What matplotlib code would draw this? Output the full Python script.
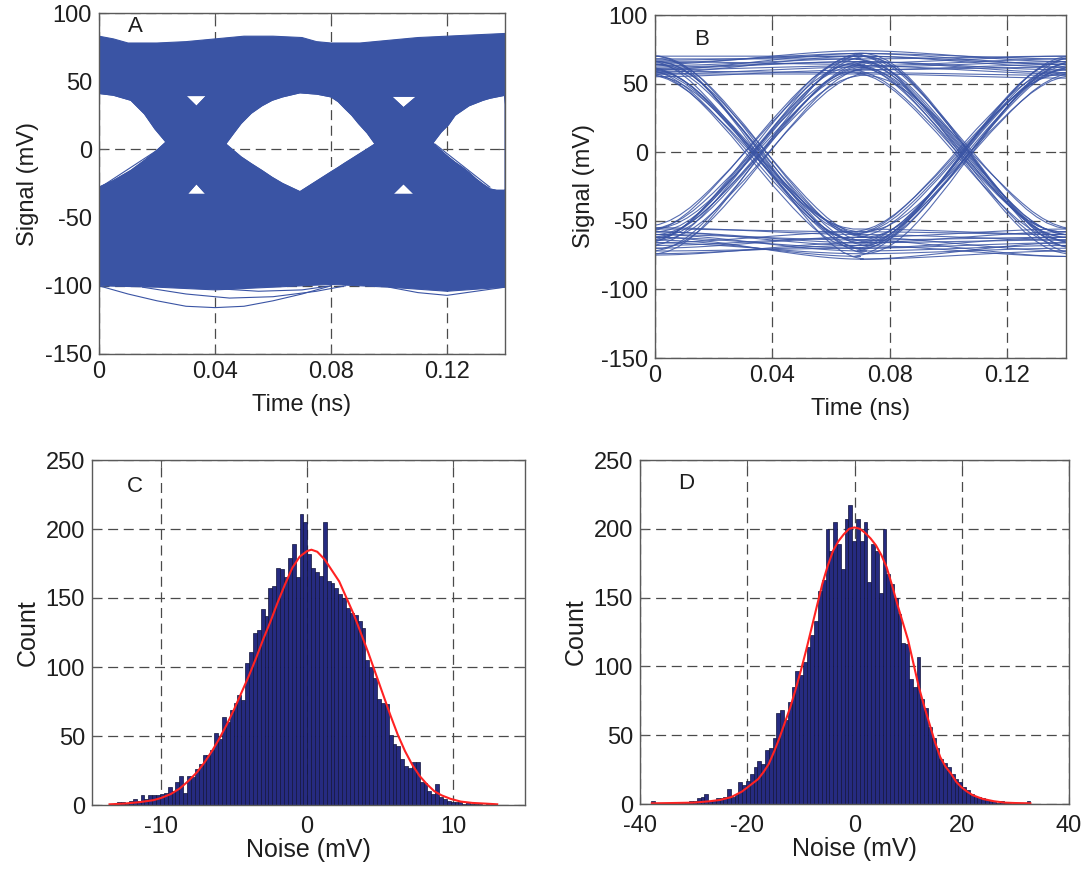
import numpy as np
import matplotlib
matplotlib.use("Agg")
import matplotlib.pyplot as plt
from matplotlib.path import Path
from matplotlib.patches import PathPatch

plt.rcParams['font.family'] = ['Liberation Sans', 'DejaVu Sans']
plt.rcParams['axes.unicode_minus'] = False

# ---------------- data ----------------
time_ticks = [0, 0.04, 0.08, 0.12]
signal_ticks = [-150, -100, -50, 0, 50, 100]
count_ticks = [0, 50, 100, 150, 200, 250]

# Panel A: dense eye, outline of the filled band (time ns, signal mV)
a_top_t = [0, 0.005, 0.01, 0.02, 0.03, 0.04, 0.05, 0.06, 0.07, 0.075, 0.08, 0.09, 0.1, 0.11, 0.12, 0.13, 0.14]
a_top_y = [83, 81, 78, 78, 79, 81, 83, 83, 82, 79, 78, 78, 80, 82, 83, 84, 85]
a_bot_t = [0, 0.02, 0.04, 0.06, 0.08, 0.1, 0.12, 0.14]
a_bot_y = [-100, -101, -103, -101, -99, -101, -104, -101]

# open eyes inside the band
a_left_eye_t = [-0.002, 0, 0.005, 0.011, 0.0157, 0.0193, 0.0231]
a_left_eye_up = [41, 41, 39.7, 36, 26, 15, 5.4]
a_left_eye_low = [-28, -27.7, -22.8, -15.4, -8, -2, 5.4]

a_mid_eye_t = [0.0437, 0.0465, 0.049, 0.0525, 0.0562, 0.0597, 0.0633, 0.0693, 0.0752, 0.080, 0.0825,
               0.0848, 0.0872, 0.0895, 0.0925, 0.0952]
a_mid_eye_up = [4, 12, 19, 26.5, 32, 36, 38.5, 41.5, 40.5, 38.5, 35, 30, 25, 19, 12, 4]
a_mid_eye_low = [4, -1, -5.5, -10.5, -15.5, -20.5, -25, -31, -23, -16.5, -13.2, -10, -6.8, -3.7, 0.3, 4]

a_right_eye_t = [0.1151, 0.118, 0.1205, 0.1228, 0.1252, 0.1276, 0.13, 0.1324, 0.1348, 0.1371, 0.14, 0.142]
a_right_eye_up = [4.6, 12.7, 18, 25, 28.5, 32, 34, 36, 37.5, 38.5, 39.7, 39.7]
a_right_eye_low = [4.6, -1, -5.6, -9.5, -13, -17, -21.6, -25.5, -29, -30, -30, -30]

# small triangular holes near the crossings
a_tri_t = [[0.0298, 0.0336, 0.0372], [0.0336, 0.0303, 0.0370],
           [0.1007, 0.1050, 0.1097], [0.1050, 0.1012, 0.1088]]
a_tri_y = [[39.5, 31.5, 39.5], [-25, -33, -33],
           [39, 30.5, 39], [-25, -33, -33]]

# a few stray traces outside / inside the band
a_stray_t = [[0, 0.01, 0.02, 0.03, 0.04, 0.05, 0.06, 0.07, 0.08],
             [0.015, 0.03, 0.045, 0.06, 0.075, 0.085],
             [0.04, 0.055, 0.07, 0.08],
             [0.1, 0.11, 0.12, 0.13, 0.14],
             [0.0014, 0.0217],
             [0.1158, 0.1348],
             [0.0705, 0.0945]]
a_stray_y = [[-100, -106, -111, -115, -116, -115, -111, -106, -100],
             [-101, -106, -109, -108, -104, -100],
             [-102, -104, -103, -100],
             [-101, -105, -107, -104, -101],
             [-26.5, 1.7],
             [4, -27.7],
             [-30, 2]]

# Panel B: one bit edge shape (offset from crossing in ns, fraction of swing)
b_edge_tau = [-0.035, -0.0315, -0.028, -0.0245, -0.021, -0.0175, -0.014, -0.0105, -0.007, -0.0035, 0.0,
              0.0035, 0.007, 0.0105, 0.014, 0.0175, 0.021, 0.0245, 0.028, 0.0315, 0.035]
b_edge_frac = [0.0, 0.012, 0.035, 0.07, 0.115, 0.17, 0.23, 0.295, 0.36, 0.43, 0.5,
               0.57, 0.64, 0.705, 0.77, 0.83, 0.885, 0.93, 0.965, 0.988, 1.0]
b_crossings = [0.035, 0.105]
# each trace: three bit levels (mV) and the jitter of its two crossings (ns)
b_traces = [
    (62, 66, 60, 0, 0), (58, 70, 64, 0, 0), (65, 72, 68, 0, 0), (60, 63, 57, 0, 0),
    (68, 68, 70, 0, 0), (55, 60, 62, 0, 0), (64, 74, 66, 0, 0), (57, 57, 54, 0, 0),
    (63, 68, -62, 0, -0.0015), (60, 72, -70, 0, 0.002), (66, 64, -58, 0, -0.0025), (57, 62, -66, 0, 0.001),
    (70, 70, -74, 0, 0.0025), (61, 66, -60, 0, -0.0005), (59, 58, -64, 0, -0.002), (67, 70, -56, 0, 0.0005),
    (64, -62, 60, 0.001, -0.001), (58, -70, 66, -0.002, 0.0015), (68, -66, 63, 0.0025, 0.0),
    (61, -58, 57, -0.001, -0.002), (66, -74, 70, 0.002, 0.0025), (60, -64, 62, -0.0025, 0.001),
    (56, -60, 58, 0.0, -0.0015), (70, -68, 66, 0.0015, 0.002),
    (62, -60, -64, -0.0015, 0), (66, -72, -68, 0.002, 0), (59, -66, -58, -0.0005, 0), (64, -62, -72, 0.0025, 0),
    (70, -78, -66, 0.001, 0), (57, -56, -60, -0.0025, 0), (60, -70, -62, 0.0, 0), (67, -64, -76, -0.002, 0),
    (-56, 60, 64, -0.001, 0), (-62, 66, 58, 0.002, 0), (-66, 63, 68, -0.0025, 0), (-58, 70, 62, 0.0015, 0),
    (-72, 62, 66, 0.0, 0), (-54, 65, 70, -0.002, 0), (-64, 58, 56, 0.0025, 0), (-68, 72, 64, -0.0005, 0),
    (-60, 64, -62, 0.0015, -0.001), (-66, 70, -70, -0.002, 0.002), (-56, 60, -58, 0.0005, -0.0025),
    (-64, 66, -66, -0.001, 0.0015), (-70, 62, -74, 0.0025, 0.0), (-58, 68, -60, -0.0025, -0.0005),
    (-62, 56, -56, 0.0, 0.0025), (-74, 72, -68, 0.001, -0.002),
    (-58, -66, 62, 0, 0.0015), (-64, -76, 66, 0, -0.002), (-70, -62, 58, 0, 0.0025), (-60, -72, 64, 0, -0.001),
    (-74, -68, 70, 0, 0.0005), (-55, -60, 60, 0, -0.0025), (-66, -58, 56, 0, 0.002), (-62, -70, 68, 0, -0.0005),
    (-60, -64, -62, 0, 0), (-66, -74, -70, 0, 0), (-56, -58, -60, 0, 0), (-72, -70, -66, 0, 0),
    (-62, -78, -72, 0, 0), (-68, -62, -56, 0, 0), (-58, -68, -76, 0, 0), (-75, -66, -64, 0, 0),
]

# Panel C histogram (100 bins between c_range) and fitted curve
c_range = (-13.5, 13.0)
c_counts = [1, 1, 2, 2, 1, 3, 4, 3, 7, 4,
            7, 7, 7, 8, 9, 13, 10, 17, 21, 9,
            21, 20, 26, 30, 36, 36, 40, 52, 48, 64,
            60, 69, 74, 80, 76, 103, 111, 125, 127, 142,
            137, 157, 159, 172, 171, 165, 179, 189, 165, 211,
            205, 182, 172, 169, 166, 205, 162, 161, 157, 153,
            150, 143, 139, 138, 133, 128, 105, 100, 92, 77,
            74, 73, 51, 44, 43, 33, 28, 27, 31, 31,
            17, 16, 10, 8, 15, 6, 4, 3, 2, 2,
            2, 1, 2, 1, 1, 1, 0, 1, 0, 1]
c_fit_x = [-13.5, -12.5, -11.5, -10.5, -10, -9.3, -8.7, -8.1, -7.5, -7.0, -6.5, -6.0, -5.5, -5.0,
           -4.5, -4.0, -3.5, -3.0, -2.5, -2.0, -1.5, -1.0, -0.5, 0, 0.3, 0.7, 1.2, 1.7, 2.2, 2.7,
           3.2, 3.7, 4.2, 4.7, 5.2, 5.7, 6.2, 6.7, 7.2, 7.7, 8.2, 8.7, 9.2, 9.8, 10.5, 11.3, 12.2, 13.0]
c_fit_y = [0.5, 1, 2, 3.5, 5, 8, 12, 17.5, 24, 31, 39, 48, 58, 69,
           81, 93, 106, 120, 133, 147, 160, 172, 180, 184, 185, 183.5, 178, 170, 162, 150,
           138, 124, 110, 95, 80, 65, 51, 39, 29, 21, 15, 10, 7, 4.5, 2.5, 1.5, 1, 0.5]

# Panel D histogram
d_range = (-37.9, 32.8)
d_counts = [2, 0, 0, 0, 0, 1, 0, 1, 1, 1,
            2, 2, 4, 5, 7, 2, 3, 4, 4, 5,
            11, 5, 7, 16, 14, 17, 22, 27, 31, 29,
            39, 41, 48, 66, 68, 61, 74, 85, 97, 94,
            103, 114, 123, 133, 155, 163, 200, 184, 205, 189,
            171, 207, 217, 191, 207, 191, 205, 161, 189, 184,
            153, 200, 167, 160, 150, 138, 117, 116, 91, 85,
            107, 76, 70, 56, 48, 41, 33, 30, 27, 22,
            18, 16, 12, 10, 7, 6, 5, 4, 3, 2,
            2, 1, 2, 1, 1, 0, 0, 0, 0, 2]
d_fit_x = [-37.8, -34, -30, -27, -25, -23, -22, -21, -20, -19, -18, -17, -16, -15, -14, -13, -12,
           -11, -10, -9, -8, -7, -6, -5, -4, -3, -2, -1, 0, 1, 2, 3, 4, 5, 6, 7, 8, 9, 10,
           11, 12, 13, 14, 15, 16, 17, 18, 19, 20, 21, 22, 23, 24, 26, 28, 30, 32.8]
d_fit_y = [0.5, 0.7, 1, 2, 3, 5, 7, 9, 12, 15, 18, 23, 29, 38, 48, 59, 70,
           83, 97, 112, 128, 144, 160, 173, 184, 191, 196, 200, 201, 200, 197, 193, 188, 181, 172, 159, 145, 132, 119,
           102, 85, 71, 58, 45, 34, 27, 22, 16, 12, 9, 6.5, 5, 3.6, 2, 1, 0.7, 0.5]

# ---------------- styling ----------------
EYE_BLUE = '#3a54a4'
TEXT = '#1e1e1e'
FS = 17


def style_axes(ax, xpad=5):
    ax.set_axisbelow(True)
    ax.grid(True, linestyle=(0, (8, 4.5)), color='#4a4a4a', linewidth=0.9)
    for s in ax.spines.values():
        s.set_color('#5a5a5a')
        s.set_linewidth(1.0)
    ax.tick_params(direction='in', length=5, width=0.8, colors='#5a5a5a',
                   labelcolor=TEXT, labelsize=FS, top=True, right=True, pad=5)
    ax.tick_params(axis='x', pad=xpad)


W, H = 1085, 871
fig = plt.figure(figsize=(W / 100, H / 100), dpi=100)


def add_ax(left, top, right, bottom):
    return fig.add_axes([left / W, 1 - bottom / H, (right - left) / W, (bottom - top) / H])


axA = add_ax(99, 13, 505, 354)
axB = add_ax(655, 15, 1066, 358)
axC = add_ax(92, 460, 525, 805)
axD = add_ax(640, 460, 1069, 804)

# ---- A ----
def loop(t, low, up):
    # lower edge left->right, upper edge right->left (counter-clockwise hole)
    xs = list(t) + list(t[::-1][1:])
    ys = list(low) + list(up[::-1][1:])
    return np.column_stack([xs, ys])


outer = np.column_stack([a_top_t + a_bot_t[::-1], a_top_y + a_bot_y[::-1]])
holes = [loop(a_left_eye_t, a_left_eye_low, a_left_eye_up),
         loop(a_mid_eye_t, a_mid_eye_low, a_mid_eye_up),
         loop(a_right_eye_t, a_right_eye_low, a_right_eye_up)]
for tt, yy in zip(a_tri_t, a_tri_y):
    holes.append(np.column_stack([tt, yy]))

verts, codes = [], []
for poly in [outer] + holes:
    verts.extend(poly.tolist())
    verts.append(poly[0].tolist())
    codes.extend([Path.MOVETO] + [Path.LINETO] * (len(poly) - 1) + [Path.CLOSEPOLY])
axA.add_patch(PathPatch(Path(verts, codes), facecolor=EYE_BLUE, edgecolor=EYE_BLUE, linewidth=0.8))

for poly in holes:
    closed = np.vstack([poly, poly[:1]])
    axA.plot(closed[:, 0], closed[:, 1], color=EYE_BLUE, lw=0.8)
for tt, yy in zip(a_stray_t, a_stray_y):
    axA.plot(tt, yy, color=EYE_BLUE, lw=0.8)

# ---- B ----
tau = np.array(b_edge_tau)
frac = np.array(b_edge_frac)
for l0, l1, l2, s1, s2 in b_traces:
    t = np.concatenate([[-0.005], b_crossings[0] + s1 + tau, b_crossings[1] + s2 + tau, [0.145]])
    y = np.concatenate([[l0], l0 + (l1 - l0) * frac, l1 + (l2 - l1) * frac, [l2]])
    axB.plot(t, y, color=EYE_BLUE, lw=0.8, alpha=0.85)

for ax, letter, pos in [(axA, 'A', (0.0125, 90)), (axB, 'B', (0.016, 82))]:
    ax.set_xlim(0, 0.14)
    ax.set_ylim(-150, 100)
    ax.set_xticks(time_ticks)
    ax.set_xticklabels(['0', '0.04', '0.08', '0.12'])
    ax.set_yticks(signal_ticks)
    ax.set_xlabel('Time (ns)', fontsize=FS, color=TEXT, labelpad=8)
    ax.set_ylabel('Signal (mV)', fontsize=FS, color=TEXT, labelpad=4)
    ax.text(pos[0], pos[1], letter, fontsize=16, color=TEXT, ha='center', va='center')
    style_axes(ax)

# ---- C, D ----
for ax, counts, rng, fx, fy, xlim, xticks, letter, lpos in [
        (axC, c_counts, c_range, c_fit_x, c_fit_y, (-14.7, 14.9), [-10, 0, 10], 'C', (-11.8, 231)),
        (axD, d_counts, d_range, d_fit_x, d_fit_y, (-40, 40), [-40, -20, 0, 20, 40], 'D', (-31.3, 233))]:
    edges = np.linspace(rng[0], rng[1], len(counts) + 1)
    ax.bar(edges[:-1], counts, width=np.diff(edges), align='edge',
           color='#262b80', edgecolor='#12143a', linewidth=0.5)
    ax.plot(fx, fy, color='#ff2222', lw=1.5)
    ax.set_xlim(*xlim)
    ax.set_ylim(0, 250)
    ax.set_xticks(xticks)
    ax.set_yticks(count_ticks)
    ax.set_xlabel('Noise (mV)', fontsize=FS + 1, color=TEXT, labelpad=0)
    ax.set_ylabel('Count', fontsize=FS + 1, color=TEXT, labelpad=4)
    ax.text(lpos[0], lpos[1], letter, fontsize=16, color=TEXT, ha='center', va='center')
    style_axes(ax, xpad=8)

fig.savefig('out.png', dpi=100)
